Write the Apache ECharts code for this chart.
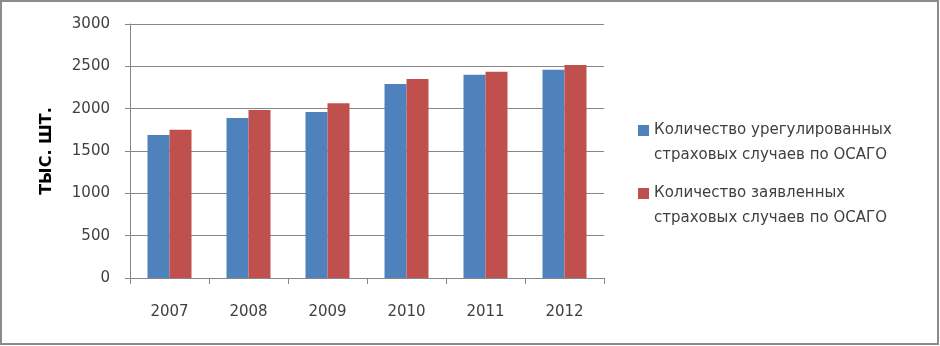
<!DOCTYPE html>
<html>
<head>
<meta charset="utf-8">
<script src="https://cdn.jsdelivr.net/npm/echarts@6/dist/echarts.min.js"></script>
<style>
  html, body { margin: 0; padding: 0; background: #fff; }
  #chart { width: 940px; height: 346px; }
</style>
</head>
<body>
<div id="chart"></div>
<script>
const years = ['2007', '2008', '2009', '2010', '2011', '2012']
const settled = [1690, 1890, 1960, 2290, 2400, 2460]
const declared = [1750, 1985, 2065, 2350, 2435, 2515]
const seriesNames = [
  'Количество урегулированных\nстраховых случаев по ОСАГО',
  'Количество заявленных\nстраховых случаев по ОСАГО'
]

const myChart = echarts.init(document.getElementById('chart'))
const textColor = '#404040'
const font = '"DejaVu Sans", sans-serif'

// square sits at the top of a taller icon box so it lines up with the first text line
const legendIcon = 'path://M0,0L11,0L11,11L0,11Z M0,35.95L0.05,36L0,36Z'

const option = {
  animation: false,
  textStyle: { fontFamily: font },
  graphic: [
    {
      type: 'rect',
      shape: { x: 1, y: 1, width: 937, height: 343 },
      style: { fill: 'none', stroke: '#8c8c8c', lineWidth: 2 }
    }
  ],
  legend: {
    orient: 'vertical',
    left: 633,
    top: 113,
    itemWidth: 11,
    itemHeight: 36,
    itemGap: 13,
    icon: legendIcon,
    textStyle: {
      color: textColor,
      fontSize: 15,
      lineHeight: 25,
      fontFamily: font
    },
    data: seriesNames
  },
  grid: {
    left: 130,
    right: 336,
    top: 24,
    bottom: 68
  },
  xAxis: {
    type: 'category',
    data: years,
    axisLine: { lineStyle: { color: '#868686' } },
    axisTick: { show: true, length: 6, lineStyle: { color: '#868686' } },
    axisLabel: { color: textColor, fontSize: 15, margin: 27, fontFamily: font }
  },
  yAxis: {
    type: 'value',
    min: 0,
    max: 3000,
    interval: 500,
    name: 'ТЫС. ШТ.',
    nameLocation: 'middle',
    nameGap: 75,
    nameTextStyle: { color: '#000', fontSize: 16, fontWeight: 'bold', fontFamily: font },
    axisLine: { show: true, lineStyle: { color: '#868686' } },
    axisTick: { show: true, length: 5, lineStyle: { color: '#868686' } },
    splitLine: { lineStyle: { color: '#868686' } },
    axisLabel: {
      color: textColor,
      fontSize: 15,
      margin: 20,
      fontFamily: font,
      formatter: v => String(v)
    }
  },
  series: [
    {
      name: seriesNames[0],
      type: 'bar',
      data: settled,
      barWidth: 22,
      barGap: '0%',
      itemStyle: { color: '#4F81BD' }
    },
    {
      name: seriesNames[1],
      type: 'bar',
      data: declared,
      barWidth: 22,
      barGap: '0%',
      itemStyle: { color: '#C0504D' }
    }
  ]
}

myChart.setOption(option)
</script>
</body>
</html>
